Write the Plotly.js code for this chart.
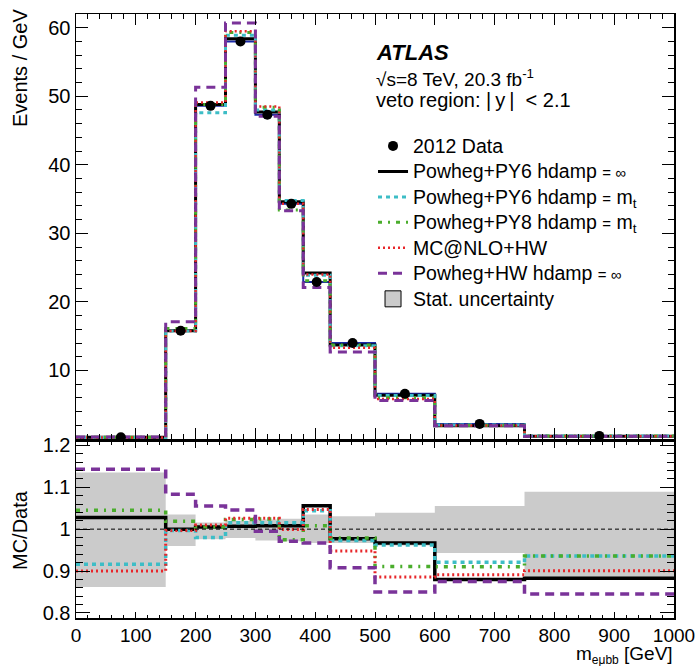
<!DOCTYPE html>
<html>
<head>
<meta charset="utf-8">
<script src="https://cdn.plot.ly/plotly-3.0.1.min.js"></script>
<style>html,body{margin:0;padding:0;background:#fff;}#chart{width:700px;height:666px;}</style>
</head>
<body>
<div id="chart"></div>
<script>
// Bin edges (GeV)
const binEdges = [0, 150, 200, 250, 300, 340, 380, 425, 500, 600, 750, 1000];
const binCenters = [75, 175, 225, 275, 320, 360, 402.5, 462.5, 550, 675, 875];

// Top panel: Events / GeV
const data2012 = [0.25, 15.8, 48.6, 58.0, 47.3, 34.3, 22.9, 14.0, 6.6, 2.2, 0.45];
const py6Inf   = [0.26, 15.8, 48.8, 58.4, 47.7, 34.6, 24.2, 13.7, 6.38, 1.94, 0.40];
const py6Mt    = [0.23, 15.75, 47.6, 58.9, 48.0, 34.8, 23.9, 13.6, 6.35, 2.03, 0.42];
const py8Mt    = [0.26, 16.1, 48.8, 59.3, 48.4, 33.4, 23.1, 13.7, 6.01, 2.00, 0.42];
const mcnloHw  = [0.225, 15.75, 49.1, 59.5, 48.5, 34.3, 24.0, 13.3, 5.85, 1.96, 0.41];
const powhegHw = [0.29, 17.1, 51.3, 60.7, 47.1, 33.3, 22.1, 12.7, 5.61, 1.93, 0.38];

// Ratio panel: MC / Data
const rPy6Inf   = [1.028, 1.000, 1.005, 1.007, 1.008, 1.008, 1.056, 0.977, 0.967, 0.880, 0.883];
const rPy6Mt    = [0.916, 0.997, 0.980, 1.015, 1.015, 1.015, 1.044, 0.973, 0.962, 0.921, 0.936];
const rPy8Mt    = [1.045, 1.019, 1.005, 1.023, 1.024, 0.975, 1.008, 0.979, 0.911, 0.910, 0.936];
const rMcnloHw  = [0.900, 0.997, 1.010, 1.026, 1.026, 0.999, 1.047, 0.948, 0.886, 0.891, 0.901];
const rPowhegHw = [1.143, 1.083, 1.055, 1.046, 0.995, 0.971, 0.967, 0.908, 0.850, 0.875, 0.845];
const statUp    = [1.135, 1.035, 1.016, 1.020, 1.023, 1.025, 1.035, 1.031, 1.039, 1.055, 1.089];
const statDown  = [0.862, 0.960, 0.976, 0.979, 0.973, 0.971, 0.967, 0.967, 0.961, 0.943, 0.879];

const topTicks = [10, 20, 30, 40, 50, 60];
const ratioTicks = [0.8, 0.9, 1, 1.1, 1.2];
const ratioTickText = ["0.8", "0.9", "1", "1.1", "1.2"];
const xTicks = [0, 100, 200, 300, 400, 500, 600, 700, 800, 900, 1000];

const FONT = "Liberation Sans, Arial, Helvetica, sans-serif";

function stepY(vals) { return vals.concat([vals[vals.length - 1]]); }
function lg(t) { return '<span style="font-size:19.5px">' + t + '</span>'; }
const INF = '<span style="font-size:15px">= ∞</span>';
const MT = '<span style="font-size:15px">=</span> m<sub>t</sub>';

const styles = [
  {name: lg("Powheg+PY6 hdamp " + INF), top: py6Inf, ratio: rPy6Inf, color: "#000000", dash: "solid", w: 3, rank: 2},
  {name: lg("Powheg+PY6 hdamp " + MT), top: py6Mt, ratio: rPy6Mt, color: "#3dbdc6", dash: "4px,4px", w: 3, rank: 3},
  {name: lg("Powheg+PY8 hdamp " + MT), top: py8Mt, ratio: rPy8Mt, color: "#4aad2c", dash: "4px,6px,2px,6px", w: 3, rank: 4},
  {name: lg("MC@NLO+HW"), top: mcnloHw, ratio: rMcnloHw, color: "#e8262a", dash: "2px,3px", w: 2.5, rank: 5},
  {name: lg("Powheg+HW hdamp " + INF), top: powhegHw, ratio: rPowhegHw, color: "#7a3399", dash: "9px,6px", w: 3, rank: 6}
];

const traces = [];

// stat band (ratio)
const bandX = [], bandY = [];
for (let i = 0; i < statUp.length; i++) { bandX.push(binEdges[i], binEdges[i + 1]); bandY.push(statUp[i], statUp[i]); }
for (let i = statDown.length - 1; i >= 0; i--) { bandX.push(binEdges[i + 1], binEdges[i]); bandY.push(statDown[i], statDown[i]); }
traces.push({x: bandX, y: bandY, xaxis: "x2", yaxis: "y2", mode: "lines", fill: "toself",
  fillcolor: "#cbcbcb", line: {width: 0, color: "#cbcbcb"}, showlegend: false, hoverinfo: "skip"});

// nominal data-level histogram (blue, underneath)
traces.push({x: binEdges, y: stepY(data2012), xaxis: "x", yaxis: "y", mode: "lines",
  line: {shape: "hv", color: "#1c2aa8", width: 2}, showlegend: false});

styles.forEach(s => {
  traces.push({x: binEdges, y: stepY(s.top), xaxis: "x", yaxis: "y", mode: "lines", name: s.name,
    legendrank: s.rank, line: {shape: "hv", color: s.color, width: s.w, dash: s.dash}});
});
styles.forEach(s => {
  traces.push({x: binEdges, y: stepY(s.ratio), xaxis: "x2", yaxis: "y2", mode: "lines", name: s.name,
    showlegend: false, line: {shape: "hv", color: s.color, width: s.w + 0.5, dash: s.dash}});
});

// data points
traces.push({x: binCenters, y: data2012, xaxis: "x", yaxis: "y", mode: "markers", name: lg("2012 Data"),
  legendrank: 1, marker: {color: "#000", size: 10, symbol: "circle"}});

// legend-only stat uncertainty entry
traces.push({x: [null], y: [null], xaxis: "x2", yaxis: "y2", mode: "markers", name: lg("Stat. uncertainty"),
  legendrank: 7, marker: {symbol: "square", size: 16, color: "#cbcbcb", line: {color: "#000", width: 1}}});

const axisCommon = {showline: true, linecolor: "#000", linewidth: 1.5, mirror: "allticks", ticks: "inside",
  tickcolor: "#000", tickwidth: 1, showgrid: false, zeroline: false,
  tickfont: {family: FONT, size: 20, color: "#000"}};

const layout = {
  width: 700, height: 666,
  margin: {l: 76, r: 26, t: 14, b: 48},
  paper_bgcolor: "#fff", plot_bgcolor: "#fff",
  font: {family: FONT, color: "#000"},
  showlegend: true,
  legend: {x: 0.4967, y: 0.811, xanchor: "left", yanchor: "top", bgcolor: "rgba(0,0,0,0)",
    font: {family: FONT, size: 17.3, color: "#000"}, tracegroupgap: 0, itemwidth: 30},
  xaxis: Object.assign({}, axisCommon, {domain: [0, 1], range: [0, 1000], anchor: "y", tickvals: xTicks,
    ticklen: 11, showticklabels: false, minor: {ticks: "inside", ticklen: 5, dtick: 20, tick0: 0, tickcolor: "#000"}}),
  yaxis: Object.assign({}, axisCommon, {domain: [0.2964, 1], range: [0, 62], anchor: "x", tickvals: topTicks,
    ticklen: 12, minor: {ticks: "inside", ticklen: 6, dtick: 2, tick0: 0, tickcolor: "#000"}}),
  xaxis2: Object.assign({}, axisCommon, {domain: [0, 1], range: [0, 1000], anchor: "y2", tickvals: xTicks,
    ticklen: 6, showticklabels: true, tickfont: {family: FONT, size: 19, color: "#000"},
    minor: {ticks: "inside", ticklen: 3, dtick: 20, tick0: 0, tickcolor: "#000"}}),
  yaxis2: Object.assign({}, axisCommon, {domain: [0, 0.2914], range: [0.788, 1.208], anchor: "x2",
    tickvals: ratioTicks, ticktext: ratioTickText, ticklen: 14,
    minor: {ticks: "inside", ticklen: 7, dtick: 0.02, tick0: 0.8, tickcolor: "#000"}}),
  shapes: [
    {type: "line", xref: "x2", yref: "y2", x0: 0, x1: 1000, y0: 1, y1: 1, line: {color: "#000", width: 1, dash: "4px,3px"}}
  ],
  annotations: [
    {text: "Events / GeV", xref: "paper", yref: "paper", x: -0.0936, y: 1.0116, xanchor: "center", yanchor: "top",
      textangle: -90, showarrow: false, font: {family: FONT, size: 20}},
    {text: "MC/Data", xref: "paper", yref: "paper", x: -0.0936, y: 0.1457, xanchor: "center", yanchor: "middle",
      textangle: -90, showarrow: false, font: {family: FONT, size: 20}},
    {text: 'm<sub><span style="font-size:12px">eμbb</span></sub> [GeV]', xref: "paper", yref: "paper", x: 1, y: -0.0605, xanchor: "right", yanchor: "middle",
      borderpad: 0, showarrow: false, font: {family: FONT, size: 19}},
    {text: "<b><i>ATLAS</i></b>", xref: "paper", yref: "paper", x: 0.4984, y: 0.937, xanchor: "left", yanchor: "middle",
      showarrow: false, font: {family: FONT, size: 22}},
    {text: "√s=8 TeV, 20.3 fb<sup>-1</sup>", xref: "paper", yref: "paper", x: 0.4984, y: 0.894, xanchor: "left", yanchor: "middle",
      showarrow: false, font: {family: FONT, size: 19}},
    {text: "veto region: |\u2009y\u2009|  < 2.1", xref: "paper", yref: "paper", x: 0.4984, y: 0.8576, xanchor: "left", yanchor: "middle",
      showarrow: false, font: {family: FONT, size: 20}}
  ]
};

Plotly.newPlot("chart", traces, layout, {staticPlot: true, displayModeBar: false});
</script>
</body>
</html>
